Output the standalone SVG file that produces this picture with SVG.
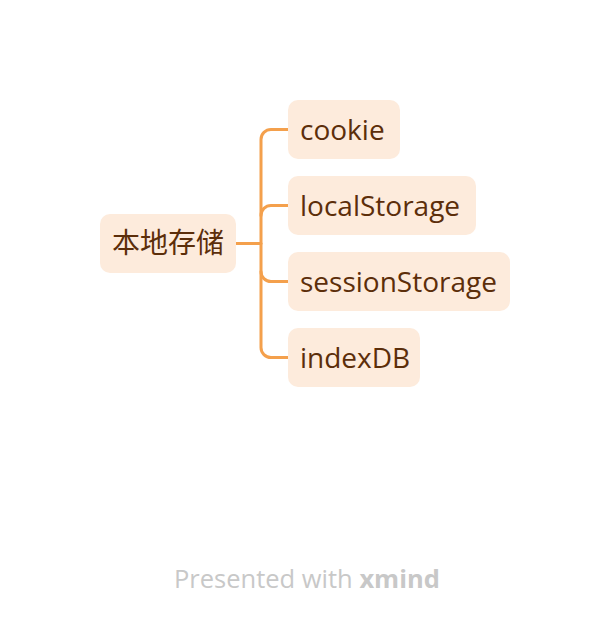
<svg xmlns="http://www.w3.org/2000/svg" width="610" height="628" viewBox="0 0 610 628">
<style>
.box{fill:#FDEBDC}
.t{font-family:"Open Sans","Noto Sans CJK SC",sans-serif;font-size:28px;fill:#5C2E0A}
.c{fill:none;stroke:#F4A04C;stroke-width:3;stroke-linecap:round}
.f{font-family:"Open Sans",sans-serif;font-size:25.5px;fill:#C8C8C8}
</style>
<rect width="610" height="628" fill="#fff"/>
<g id="connectors">
<path class="c" d="M236 243.5H261"/>
<path class="c" d="M288 129.5H271a10 10 0 0 0-10 10V347.5a10 10 0 0 0 10 10H288"/>
<path class="c" d="M288 205.5H271a10 10 0 0 0-10 10"/>
<path class="c" d="M288 281.5H271a10 10 0 0 1-10-10"/>
</g>
<g id="root"><rect class="box" x="100" y="214" width="136" height="59" rx="10"/><text class="t" x="112" y="253" font-size="27">本地存储</text></g>
<g id="cookie"><rect class="box" x="288" y="100" width="112" height="59" rx="10"/><text class="t" x="300" y="140">cookie</text></g>
<g id="localStorage"><rect class="box" x="288" y="176" width="188" height="59" rx="10"/><text class="t" x="300" y="216">localStorage</text></g>
<g id="sessionStorage"><rect class="box" x="288" y="252" width="222" height="59" rx="10"/><text class="t" x="300" y="292">sessionStorage</text></g>
<g id="indexDB"><rect class="box" x="288" y="328" width="132" height="59" rx="10"/><text class="t" x="300" y="368">indexDB</text></g>
<text class="f" x="174" y="588">Presented with <tspan font-weight="bold">xmind</tspan></text>
</svg>
